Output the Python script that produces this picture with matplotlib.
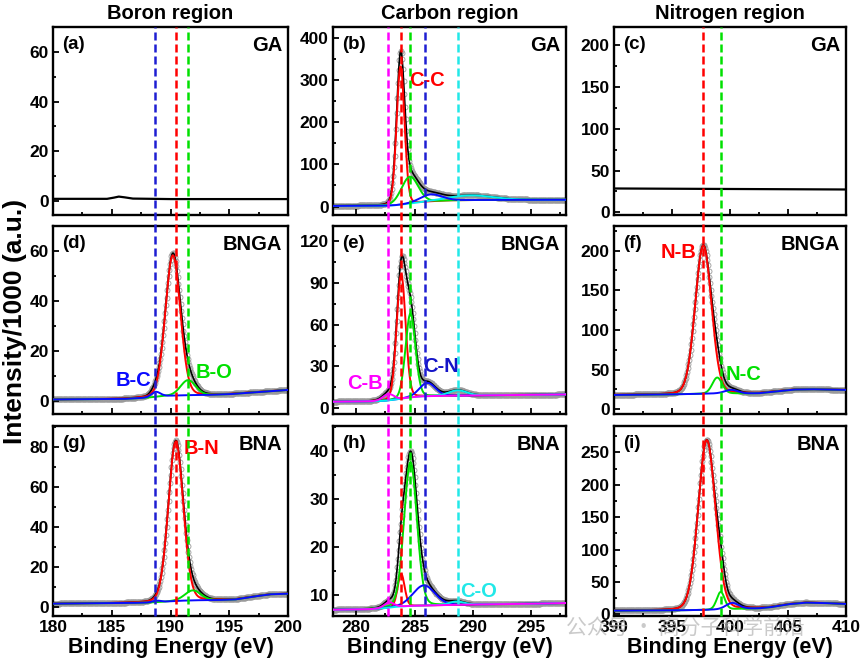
import numpy as np
import matplotlib
matplotlib.use("Agg")
import matplotlib.pyplot as plt
from matplotlib.lines import Line2D
from matplotlib.ticker import AutoMinorLocator
from matplotlib.transforms import blended_transform_factory

plt.rcParams['font.family'] = ['Liberation Sans', 'DejaVu Sans']
plt.rcParams['font.weight'] = 'bold'

# ---- data ----
regions = ["Boron region", "Carbon region", "Nitrogen region"]
samples = ["GA", "BNGA", "BNA"]
panel_tags = ["(a)", "(b)", "(c)", "(d)", "(e)", "(f)", "(g)", "(h)", "(i)"]

boron_xlim = (180, 200)
carbon_xlim = (278, 298)
nitrogen_xlim = (390, 410)

# reference positions (dashed lines), eV
boron_refs = [188.7, 190.5, 191.5]            # B-C, B-N, B-O
carbon_refs = [282.7, 283.8, 284.6, 285.9, 288.7]  # C-B, C-C, C-C', C-N, C-O
nitrogen_refs = [397.7, 399.2]                # N-B, N-C

# (a) GA boron: raw line only
a_x = [180, 184.6, 185.2, 185.6, 186.1, 186.8, 190, 195, 200]
a_y = [0.9, 0.9, 1.4, 1.8, 1.5, 1.0, 0.8, 0.8, 0.8]

# (c) GA nitrogen: raw line only
c_x = [390, 395, 400, 405, 410]
c_y = [28.6, 28.3, 28.0, 27.7, 27.4]

# fitted panels: background points + peaks (name, centre, height, fwhm)
b_bg_x = [278, 282.5, 283.3, 284, 285, 286, 287, 288, 290, 294, 298]
b_bg_y = [1.5, 2.0, 3.0, 5.0, 8.0, 11.0, 13.0, 14.5, 15.5, 16.0, 16.0]
b_names = ["C-C", "C-C'", "C-O", "C-N"]
b_centres = [283.8, 284.6, 289.8, 286.4]
b_heights = [328, 64, 11, 17]
b_fwhm = [0.8, 1.7, 4.5, 2.2]

d_bg_x = [180, 186, 188, 189.5, 191, 193, 195, 197, 200]
d_bg_y = [0.8, 1.0, 1.5, 2.2, 2.5, 2.6, 2.9, 3.6, 4.6]
d_names = ["B-N", "B-O", "B-C"]
d_centres = [190.2, 191.5, 188.75]
d_heights = [56, 6.0, 2.0]
d_fwhm = [1.5, 1.5, 0.9]

e_bg_x = [278, 281, 282.5, 283.5, 284.5, 285.5, 287, 290, 294, 298]
e_bg_y = [4.8, 5.0, 5.5, 6.5, 7.8, 8.6, 9.0, 9.3, 9.6, 10.0]
e_names = ["C-C", "C-C'", "C-N", "C-O", "C-B"]
e_centres = [283.85, 284.65, 286.1, 288.7, 282.75]
e_heights = [89, 60, 9.5, 3.8, 4.6]
e_fwhm = [0.9, 1.0, 1.6, 1.8, 1.1]

f_bg_x = [390, 394, 396, 397.5, 399, 400.5, 401.5, 402.5, 404, 405.5, 407, 408.5, 410]
f_bg_y = [18.0, 18.5, 19.0, 19.5, 20.0, 20.0, 20.0, 20.2, 22.5, 24.8, 25.2, 24.8, 24.4]
f_names = ["N-B", "N-C", "N-x"]
f_centres = [397.7, 398.9, 400.1]
f_heights = [187, 20, 4.5]
f_fwhm = [1.65, 1.0, 1.3]

g_bg_x = [180, 186, 188, 189, 190.5, 192, 194, 195.5, 197, 198.5, 200]
g_bg_y = [1.5, 1.8, 2.0, 2.3, 2.9, 3.2, 3.3, 3.6, 5.0, 6.2, 6.5]
g_names = ["B-N", "B-O", "B-C"]
g_centres = [190.45, 191.9, 188.8]
g_heights = [80, 5.0, 0.8]
g_fwhm = [1.5, 1.6, 0.8]

h_bg_x = [278, 281, 282.3, 283.3, 284.5, 286, 288, 290, 294, 298]
h_bg_y = [6.9, 7.0, 7.2, 7.5, 7.7, 7.8, 7.9, 8.0, 8.1, 8.3]
h_names = ["C-C", "C-C'", "C-N", "C-O", "C-B"]
h_centres = [283.85, 284.65, 285.8, 288.6, 282.8]
h_heights = [6.8, 30.0, 4.2, 0.7, 1.1]
h_fwhm = [0.7, 1.3, 2.2, 1.5, 1.0]

i_bg_x = [390, 394, 396, 397.5, 399, 400.5, 401.5, 402.5, 403.5, 405, 406.5, 408, 410]
i_bg_y = [5.7, 6.0, 6.3, 6.7, 7.5, 8.3, 9.0, 9.3, 11.0, 15.5, 18.0, 17.5, 16.0]
i_names = ["N-B", "N-C", "N-x"]
i_centres = [398.0, 399.2, 400.2]
i_heights = [262, 27, 9.5]
i_fwhm = [1.75, 0.8, 1.3]

# ---- styles ----
RED, GREEN, BLUE, MAG, CYAN = "#ff0000", "#00e000", "#0a0aff", "#ff00ff", "#00f0f0"
comp_color = {"B-N": RED, "B-O": GREEN, "B-C": BLUE,
              "C-C": RED, "C-C'": GREEN, "C-N": BLUE, "C-O": CYAN, "C-B": MAG,
              "N-B": RED, "N-C": GREEN, "N-x": BLUE}
dash_colors = {0: ["#1e1ed2", RED, GREEN],
               1: [MAG, RED, GREEN, "#1e1ed2", "#22e8e8"],
               2: [RED, GREEN]}

W, H = 864, 663
col_px = [(53, 288), (333, 566), (614, 846)]
row_px = [(27, 215), (226, 414), (426, 616)]

ylims = [(-5.6, 70), (-20, 425), (-3, 221),
         (-5, 70), (-4, 130.5), (-6, 231),
         (-4.7, 90.7), (5.6, 45.2), (-2.6, 290.6)]
yticks = [[0, 20, 40, 60], [0, 100, 200, 300, 400], [0, 50, 100, 150, 200],
          [0, 20, 40, 60], [0, 30, 60, 90, 120], [0, 50, 100, 150, 200],
          [0, 20, 40, 60, 80], [10, 20, 30, 40], [0, 50, 100, 150, 200, 250]]
xlims = [boron_xlim, carbon_xlim, nitrogen_xlim]
xticks = [[180, 185, 190, 195, 200], [280, 285, 290, 295], [390, 395, 400, 405, 410]]
refs = [boron_refs, carbon_refs, nitrogen_refs]

fits = {
    1: (b_bg_x, b_bg_y, b_names, b_centres, b_heights, b_fwhm),
    3: (d_bg_x, d_bg_y, d_names, d_centres, d_heights, d_fwhm),
    4: (e_bg_x, e_bg_y, e_names, e_centres, e_heights, e_fwhm),
    5: (f_bg_x, f_bg_y, f_names, f_centres, f_heights, f_fwhm),
    6: (g_bg_x, g_bg_y, g_names, g_centres, g_heights, g_fwhm),
    7: (h_bg_x, h_bg_y, h_names, h_centres, h_heights, h_fwhm),
    8: (i_bg_x, i_bg_y, i_names, i_centres, i_heights, i_fwhm),
}

# labels written on the panels: (panel, text, x, y, colour)
peak_labels = [(1, "C-C", 284.5, 299, RED), (3, "B-C", 185.3, 8.2, BLUE),
               (3, "B-O", 192.1, 11.5, GREEN), (4, "C-B", 279.2, 17.9, MAG),
               (4, "C-N", 285.7, 29.8, "#1414c8"), (5, "N-B", 394.0, 198, RED),
               (5, "N-C", 399.6, 43.3, GREEN), (6, "B-N", 191.1, 79.5, RED),
               (7, "C-O", 288.9, 10.7, "#22e8e8")]


def pvoigt(x, c, h, w, eta=0.1):
    u = (x - c) / w
    return h * ((1 - eta) * np.exp(-4 * np.log(2) * u ** 2) + eta / (1 + 4 * u ** 2))


fig = plt.figure(figsize=(W / 100, H / 100), dpi=100)
axes = []
for r in range(3):
    for c in range(3):
        x0, x1 = col_px[c]
        y0, y1 = row_px[r]
        ax = fig.add_axes([x0 / W, 1 - y1 / H, (x1 - x0) / W, (y1 - y0) / H])
        axes.append(ax)
        k = r * 3 + c
        ax.set_xlim(*xlims[c])
        ax.set_ylim(*ylims[k])
        ax.set_xticks(xticks[c])
        ax.set_yticks(yticks[k])
        ax.xaxis.set_minor_locator(AutoMinorLocator(2))
        ax.yaxis.set_minor_locator(AutoMinorLocator(2))
        ax.tick_params(which="both", direction="in", top=False, right=False,
                       labelsize=12.5, width=1.3, pad=3)
        ax.tick_params(which="major", length=4)
        ax.tick_params(which="minor", length=2)
        for s in ax.spines.values():
            s.set_linewidth(1.7)
        if r < 2:
            ax.tick_params(labelbottom=False)
        else:
            ax.set_xlabel("Binding Energy (eV)", fontsize=15.5, fontweight="bold", labelpad=1)
        if r == 0:
            ax.set_title(regions[c], fontsize=14.5, fontweight="bold", pad=6)
        ax.text(0.04, 0.95, panel_tags[k], transform=ax.transAxes, fontsize=13.5,
                fontweight="bold", va="top", ha="left")
        ax.text(0.975, 0.95, samples[r], transform=ax.transAxes, fontsize=14.5,
                fontweight="bold", va="top", ha="right")

        if k == 0:
            ax.plot(a_x, a_y, color="k", lw=1.6)
        elif k == 2:
            ax.plot(c_x, c_y, color="k", lw=1.6)
        else:
            bgx, bgy, names, cens, hts, fw = fits[k]
            x = np.arange(xlims[c][0], xlims[c][1] + 1e-6, 0.06)
            bg = np.interp(x, bgx, bgy)
            comps = [bg + pvoigt(x, ce, hh, ww) for ce, hh, ww in zip(cens, hts, fw)]
            env = bg + sum(cc - bg for cc in comps)
            ax.plot(x, env, "o", mfc="none", mec="#9a9a9a", ms=3.6, mew=0.6, zorder=1)
            ax.plot(x, env, color="k", lw=1.2, zorder=2)
            for nm, cc in zip(names, comps):
                ax.plot(x, cc, color=comp_color[nm], lw=1.4, zorder=3)

for k, txt, tx, ty, col in peak_labels:
    axes[k].text(tx, ty, txt, color=col, fontsize=14.5, fontweight="bold",
                 va="center", ha="left", zorder=6)

# dashed reference lines running through each column
top_f = 1 - row_px[0][0] / H
bot_f = 1 - row_px[2][1] / H
for c in range(3):
    tr = blended_transform_factory(axes[c].transData, fig.transFigure)
    for xv, col in zip(refs[c], dash_colors[c]):
        ln = Line2D([xv, xv], [bot_f, top_f], transform=tr, color=col, lw=1.8,
                    linestyle=(0, (3.2, 1.6)), zorder=5)
        fig.add_artist(ln)

fig.text(0.017, 0.515, "Intensity/1000 (a.u.)", rotation=90, fontsize=19,
         fontweight="bold", va="center", ha="center")

fig.text(0.655, 1 - 629 / H, "公众号 · 高分子科学前沿", fontsize=15, color="#b4b4b4",
         alpha=0.7, va="center", ha="left",
         family=["Noto Sans CJK SC", "DejaVu Sans"], fontweight="normal")

fig.savefig("out.png", dpi=100)
